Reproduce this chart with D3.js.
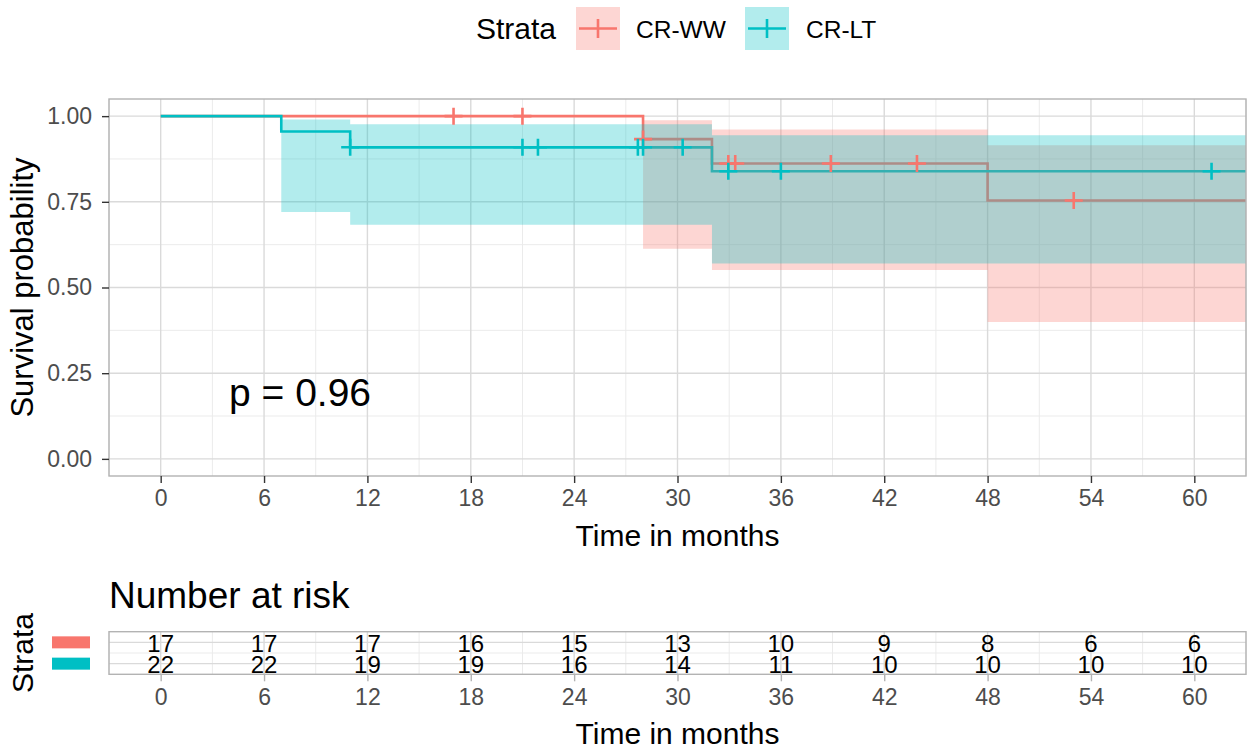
<!DOCTYPE html>
<html>
<head>
<meta charset="utf-8">
<script src="https://cdn.jsdelivr.net/npm/d3@7"></script>
<style>
  body { margin: 0; background: #fff; }
  svg text { font-family: "Liberation Sans", Arial, sans-serif; }
</style>
</head>
<body>
<div class="chart"></div>
<script>
// strata and colours
const strata = ['CR-WW', 'CR-LT'];
const colors = ['#F8766D', '#00BFC4'];

// Kaplan-Meier steps, CR-WW
const wwTime  = [0, 28, 32, 48, 64];
const wwSurv  = [1, 0.933, 0.862, 0.754, 0.754];
const wwLower = [1, 0.613, 0.551, 0.399, 0.399];
const wwUpper = [1, 0.988, 0.961, 0.915, 0.915];
const wwCensTime = [17, 21, 28, 32.95, 33.35, 38.9, 43.9, 53];
const wwCensSurv = [1, 1, 0.933, 0.862, 0.862, 0.862, 0.862, 0.754];

// Kaplan-Meier steps, CR-LT
const ltTime  = [0, 7, 11, 32, 64];
const ltSurv  = [1, 0.955, 0.909, 0.839, 0.839];
const ltLower = [1, 0.720, 0.683, 0.570, 0.570];
const ltUpper = [1, 0.990, 0.976, 0.944, 0.944];
const ltCensTime = [11, 21, 21.9, 27.7, 28.0, 30.3, 32.95, 36, 61];
const ltCensSurv = [0.909, 0.909, 0.909, 0.909, 0.909, 0.909, 0.839, 0.839, 0.839];

// axis ticks
const xTicks = [0, 6, 12, 18, 24, 30, 36, 42, 48, 54, 60];
const xMinor = [-3, 3, 9, 15, 21, 27, 33, 39, 45, 51, 57, 63];
const yTicks = [0, 0.25, 0.5, 0.75, 1];
const yMinor = [0.125, 0.375, 0.625, 0.875];

// number at risk at xTicks
const riskWW = [17, 17, 17, 16, 15, 13, 10, 9, 8, 6, 6];
const riskLT = [22, 22, 19, 19, 16, 14, 11, 10, 10, 10, 10];

const pText = 'p = 0.96';

const w = 1252, h = 750;
const pLeft = 109, pRight = 1246, pTop = 99, pBottom = 476;
const rTop = 631.7, rBottom = 674.3;

const svg = d3.select('div.chart').append('svg')
  .attr('width', w).attr('height', h);

const x = d3.scaleLinear().domain([-3, 63]).range([pLeft, pRight]);
const y = d3.scaleLinear().domain([-0.05, 1.05]).range([pBottom, pTop]);
const yr = d3.scaleLinear().domain([0.5, 2.5]).range([rBottom, rTop]);

const curves = [
  {t: wwTime, s: wwSurv, lo: wwLower, up: wwUpper, ct: wwCensTime, cs: wwCensSurv, c: colors[0]},
  {t: ltTime, s: ltSurv, lo: ltLower, up: ltUpper, ct: ltCensTime, cs: ltCensSurv, c: colors[1]}
];

svg.append('clipPath').attr('id', 'clip')
  .append('rect').attr('x', pLeft).attr('y', pTop)
  .attr('width', pRight - pLeft).attr('height', pBottom - pTop);

// ---- main panel grid
const g = svg.append('g');
g.selectAll('line.xmin').data(xMinor).enter().append('line')
  .attr('x1', d => x(d)).attr('x2', d => x(d)).attr('y1', pTop).attr('y2', pBottom)
  .attr('stroke', '#ebebeb').attr('stroke-width', 1);
g.selectAll('line.ymin').data(yMinor).enter().append('line')
  .attr('y1', d => y(d)).attr('y2', d => y(d)).attr('x1', pLeft).attr('x2', pRight)
  .attr('stroke', '#ebebeb').attr('stroke-width', 1);
g.selectAll('line.xmaj').data(xTicks).enter().append('line')
  .attr('x1', d => x(d)).attr('x2', d => x(d)).attr('y1', pTop).attr('y2', pBottom)
  .attr('stroke', '#dadada').attr('stroke-width', 1.4);
g.selectAll('line.ymaj').data(yTicks).enter().append('line')
  .attr('y1', d => y(d)).attr('y2', d => y(d)).attr('x1', pLeft).attr('x2', pRight)
  .attr('stroke', '#dadada').attr('stroke-width', 1.4);

const plot = svg.append('g').attr('clip-path', 'url(#clip)');

const line = d3.line().curve(d3.curveStepAfter);
const area = d3.area().curve(d3.curveStepAfter);

// survival steps
curves.forEach(cv => {
  plot.append('path')
    .attr('d', line(cv.t.map((t, i) => [x(t), y(cv.s[i])])))
    .attr('fill', 'none').attr('stroke', cv.c).attr('stroke-width', 2.6);
});

// confidence ribbons
curves.forEach(cv => {
  plot.append('path')
    .attr('d', area.x(d => d[0]).y0(d => d[1]).y1(d => d[2])(
      cv.t.map((t, i) => [x(t), y(cv.lo[i]), y(cv.up[i])])))
    .attr('fill', cv.c).attr('fill-opacity', 0.3).attr('stroke', 'none');
});

// censor marks
curves.forEach(cv => {
  plot.selectAll(null).data(cv.ct.map((t, i) => [t, cv.cs[i]])).enter().append('path')
    .attr('d', d => {
      const cx = x(d[0]), cy = y(d[1]);
      return 'M' + (cx - 9) + ',' + cy + 'H' + (cx + 9) + 'M' + cx + ',' + (cy - 8.5) + 'V' + (cy + 8.5);
    })
    .attr('stroke', cv.c).attr('stroke-width', 2.6).attr('fill', 'none');
});

// panel border
svg.append('rect').attr('x', pLeft).attr('y', pTop)
  .attr('width', pRight - pLeft).attr('height', pBottom - pTop)
  .attr('fill', 'none').attr('stroke', '#b3b3b3').attr('stroke-width', 1.4);

// axes
const xAxis = svg.append('g').attr('transform', 'translate(0,' + pBottom + ')')
  .call(d3.axisBottom(x).tickValues(xTicks).tickSize(7).tickPadding(6));
const yAxis = svg.append('g').attr('transform', 'translate(' + pLeft + ',0)')
  .call(d3.axisLeft(y).tickValues(yTicks).tickFormat(d3.format('.2f')).tickSize(7).tickPadding(10));
[xAxis, yAxis].forEach(a => {
  a.select('.domain').remove();
  a.selectAll('.tick line').attr('stroke', '#333').attr('stroke-width', 1.4);
  a.selectAll('.tick text').attr('fill', '#4d4d4d').attr('font-size', 23)
    .attr('font-family', '"Liberation Sans", Arial, sans-serif');
});
xAxis.selectAll('.tick text').attr('dy', '0.72em');

svg.append('text').text('Time in months')
  .attr('x', (x(-3) + x(63)) / 2).attr('y', 546)
  .attr('text-anchor', 'middle').attr('font-size', 30);
svg.append('text').text('Survival probability')
  .attr('transform', 'translate(33,' + ((pTop + pBottom) / 2) + ') rotate(-90)')
  .attr('text-anchor', 'middle').attr('font-size', 31);

svg.append('text').text(pText)
  .attr('x', 229).attr('y', 406).attr('font-size', 39);

// ---- legend
const lg = svg.append('g');
lg.append('text').text('Strata').attr('x', 476).attr('y', 39).attr('font-size', 30);
const keyX = [576, 745];
const labX = [636, 806];
strata.forEach((s, i) => {
  lg.append('rect').attr('x', keyX[i]).attr('y', 7).attr('width', 44).attr('height', 43)
    .attr('fill', colors[i]).attr('fill-opacity', 0.3);
  lg.append('path')
    .attr('d', 'M' + (keyX[i] + 3) + ',28.5H' + (keyX[i] + 41) + 'M' + (keyX[i] + 22) + ',19V38')
    .attr('stroke', colors[i]).attr('stroke-width', 2.6);
  lg.append('text').text(s).attr('x', labX[i]).attr('y', 37.5).attr('font-size', 24.5);
});

// ---- risk table
svg.append('text').text('Number at risk').attr('x', 109).attr('y', 608).attr('font-size', 37);

const rt = svg.append('g');
rt.selectAll('line.rxmin').data(xMinor).enter().append('line')
  .attr('x1', d => x(d)).attr('x2', d => x(d)).attr('y1', rTop).attr('y2', rBottom)
  .attr('stroke', '#ebebeb').attr('stroke-width', 1);
rt.selectAll('line.rymin').data([1.5]).enter().append('line')
  .attr('y1', d => yr(d)).attr('y2', d => yr(d)).attr('x1', pLeft).attr('x2', pRight)
  .attr('stroke', '#ebebeb').attr('stroke-width', 1);
rt.selectAll('line.rxmaj').data(xTicks).enter().append('line')
  .attr('x1', d => x(d)).attr('x2', d => x(d)).attr('y1', rTop).attr('y2', rBottom)
  .attr('stroke', '#dadada').attr('stroke-width', 1.4);
rt.selectAll('line.rymaj').data([1, 2]).enter().append('line')
  .attr('y1', d => yr(d)).attr('y2', d => yr(d)).attr('x1', pLeft).attr('x2', pRight)
  .attr('stroke', '#dadada').attr('stroke-width', 1.4);

[riskWW, riskLT].forEach((arr, k) => {
  const row = 2 - k;
  rt.selectAll(null).data(arr).enter().append('text')
    .text(d => d)
    .attr('x', (d, i) => x(xTicks[i])).attr('y', yr(row) + 9.8)
    .attr('text-anchor', 'middle').attr('font-size', 24).attr('fill', '#000');
});

rt.append('rect').attr('x', pLeft).attr('y', rTop)
  .attr('width', pRight - pLeft).attr('height', rBottom - rTop)
  .attr('fill', 'none').attr('stroke', '#b3b3b3').attr('stroke-width', 1.4);

const rAxis = svg.append('g').attr('transform', 'translate(0,' + rBottom + ')')
  .call(d3.axisBottom(x).tickValues(xTicks).tickSize(7).tickPadding(7));
rAxis.select('.domain').remove();
rAxis.selectAll('.tick line').attr('stroke', '#b3b3b3').attr('stroke-width', 1.4);
rAxis.selectAll('.tick text').attr('fill', '#4d4d4d').attr('font-size', 23).attr('dy', '0.72em')
  .attr('font-family', '"Liberation Sans", Arial, sans-serif');

svg.append('text').text('Time in months')
  .attr('x', (x(-3) + x(63)) / 2).attr('y', 744)
  .attr('text-anchor', 'middle').attr('font-size', 30);

// strata swatches
[0, 1].forEach(k => {
  svg.append('rect').attr('x', 52).attr('y', yr(2 - k) - 6).attr('width', 38).attr('height', 12)
    .attr('fill', colors[k]);
});
svg.append('text').text('Strata')
  .attr('transform', 'translate(33,' + ((rTop + rBottom) / 2) + ') rotate(-90)')
  .attr('text-anchor', 'middle').attr('font-size', 30);
</script>
</body>
</html>
